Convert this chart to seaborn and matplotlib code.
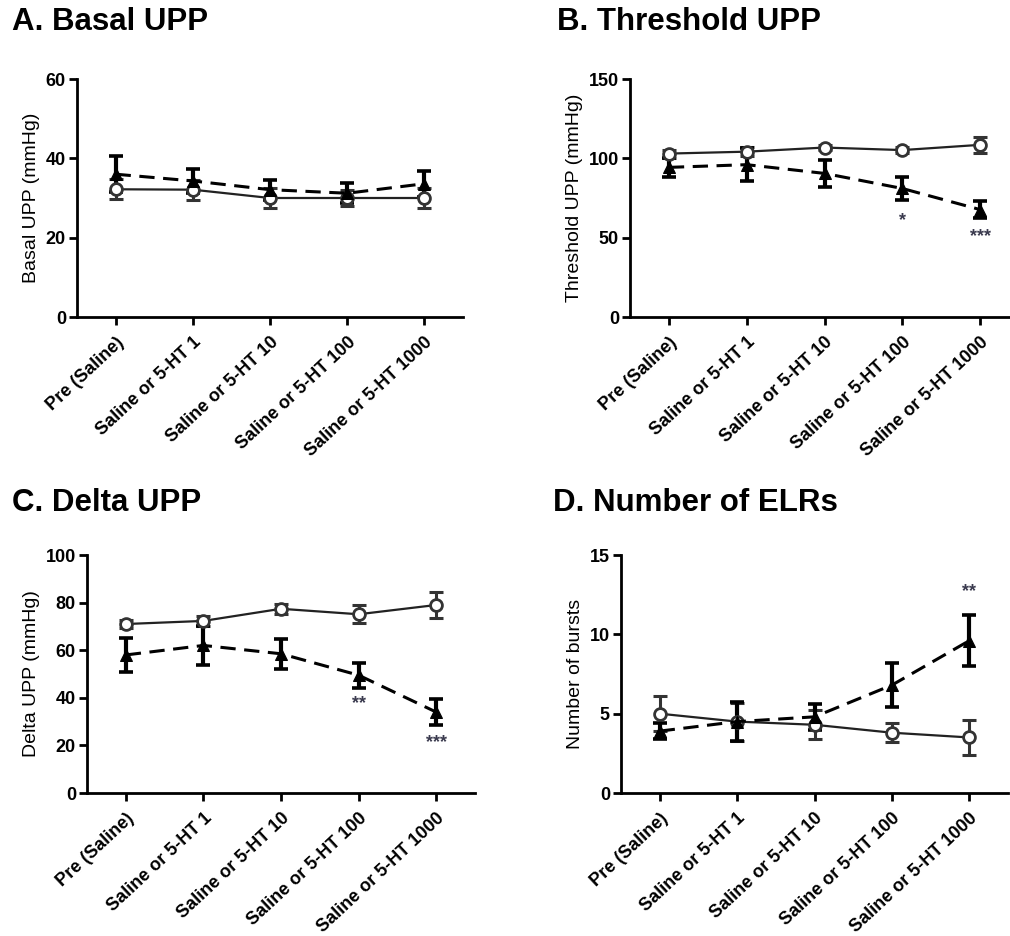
import numpy as np
import pandas as pd
import matplotlib
matplotlib.use("Agg")
import matplotlib.pyplot as plt
import seaborn as sns

sns.set_theme(style="ticks")
plt.rcParams["font.family"] = ["Liberation Sans", "DejaVu Sans"]
plt.rcParams.update({"text.color": "black", "axes.labelcolor": "black",
                     "xtick.color": "black", "ytick.color": "black"})

conditions = ["Pre (Saline)", "Saline or 5-HT 1", "Saline or 5-HT 10",
              "Saline or 5-HT 100", "Saline or 5-HT 1000"]

# Saline group (open circles, solid line): mean and SEM
basal_saline = [32.2, 32.1, 30.0, 30.0, 30.0]
basal_saline_sem = [2.5, 2.5, 2.5, 2.0, 2.5]
threshold_saline = [103.0, 104.2, 106.8, 105.2, 108.5]
threshold_saline_sem = [2.5, 3.0, 1.5, 2.0, 5.0]
delta_saline = [71.0, 72.3, 77.4, 75.1, 79.0]
delta_saline_sem = [1.5, 2.0, 2.0, 3.8, 5.5]
elr_saline = [5.0, 4.5, 4.3, 3.8, 3.5]
elr_saline_sem = [1.1, 1.2, 0.9, 0.6, 1.1]

# 5-HT group (filled triangles, dashed line): mean and SEM
basal_5ht = [36.0, 34.3, 32.1, 31.2, 33.6]
basal_5ht_sem = [4.5, 3.1, 2.5, 2.5, 3.3]
threshold_5ht = [94.3, 96.0, 90.5, 81.0, 67.7]
threshold_5ht_sem = [6.0, 10.5, 8.4, 7.2, 5.5]
delta_5ht = [58.0, 62.0, 58.5, 49.5, 34.0]
delta_5ht_sem = [7.0, 8.2, 6.4, 5.2, 5.5]
elr_5ht = [3.9, 4.5, 4.8, 6.8, 9.6]
elr_5ht_sem = [0.5, 1.25, 0.8, 1.4, 1.6]

# significance marks: (condition index, y position, text)
threshold_stars = [(3, 61, "*"), (4, 50.5, "***")]
delta_stars = [(3, 37.5, "**"), (4, 21, "***")]
elr_stars = [(4, 12.7, "**")]

W, H = 1010, 936
fig = plt.figure(figsize=(W / 100, H / 100), dpi=100)


def axes_px(left, right, top, bottom):
    return fig.add_axes([left / W, 1 - bottom / H, (right - left) / W, (bottom - top) / H])


panels = [
    dict(box=(77, 463, 79, 317), title="A. Basal UPP", tpos=(12, 22),
         sal=basal_saline, sal_e=basal_saline_sem, ht=basal_5ht, ht_e=basal_5ht_sem,
         ylim=60, yticks=[0, 20, 40, 60], ylabel="Basal UPP (mmHg)", stars=[]),
    dict(box=(630, 1019, 79, 317), title="B. Threshold UPP", tpos=(557, 22),
         sal=threshold_saline, sal_e=threshold_saline_sem, ht=threshold_5ht, ht_e=threshold_5ht_sem,
         ylim=150, yticks=[0, 50, 100, 150], ylabel="Threshold UPP (mmHg)", stars=threshold_stars),
    dict(box=(87, 475, 555, 793), title="C. Delta UPP", tpos=(12, 503),
         sal=delta_saline, sal_e=delta_saline_sem, ht=delta_5ht, ht_e=delta_5ht_sem,
         ylim=100, yticks=[0, 20, 40, 60, 80, 100], ylabel="Delta UPP (mmHg)", stars=delta_stars),
    dict(box=(621, 1008, 555, 793), title="D. Number of ELRs", tpos=(553, 503),
         sal=elr_saline, sal_e=elr_saline_sem, ht=elr_5ht, ht_e=elr_5ht_sem,
         ylim=15, yticks=[0, 5, 10, 15], ylabel="Number of bursts", stars=elr_stars),
]

idx = np.arange(len(conditions))

for p in panels:
    ax = axes_px(*p["box"])
    df = pd.DataFrame({
        "cond": np.concatenate([idx, idx]),
        "value": np.concatenate([p["sal"], p["ht"]]),
        "group": ["Saline"] * len(idx) + ["5-HT"] * len(idx),
    })
    # error bars (SEM)
    ax.errorbar(idx, p["sal"], yerr=p["sal_e"], fmt="none", ecolor="#333333",
                elinewidth=2.2, capsize=5, capthick=2.2, zorder=2)
    ax.errorbar(idx, p["ht"], yerr=p["ht_e"], fmt="none", ecolor="black",
                elinewidth=3.0, capsize=5, capthick=2.6, zorder=3)
    sns.lineplot(data=df[df.group == "Saline"], x="cond", y="value", ax=ax,
                 color="#222222", lw=1.6, marker="o", markersize=8.5,
                 markerfacecolor="white", markeredgecolor="#333333",
                 markeredgewidth=2, zorder=4, legend=False)
    sns.lineplot(data=df[df.group == "5-HT"], x="cond", y="value", ax=ax,
                 color="black", lw=2.2, marker="^", markersize=8.5,
                 markerfacecolor="black", markeredgecolor="black",
                 linestyle=(0, (5, 2.8)), zorder=5, legend=False)
    for ci, yv, s in p["stars"]:
        ax.text(ci, yv, s, ha="center", va="center", fontsize=13,
                color="#3a3a4e", fontweight="bold")

    ax.set_xlim(-0.5, 4.5)
    ax.set_ylim(0, p["ylim"])
    ax.set_yticks(p["yticks"])
    ax.set_xticks(idx)
    ax.set_xticklabels(conditions, rotation=43, ha="right", rotation_mode="anchor",
                       fontsize=13, fontweight="bold")
    for lab in ax.get_yticklabels():
        lab.set_fontweight("bold")
        lab.set_fontsize(13)
    ax.set_xlabel("")
    ax.set_ylabel(p["ylabel"], fontsize=14, labelpad=4)
    ax.tick_params(axis="both", direction="out", length=6, width=2, color="black",
                   labelcolor="black", pad=2)
    ax.tick_params(axis="x", pad=6)
    for sp in ["left", "bottom"]:
        ax.spines[sp].set_linewidth(2)
        ax.spines[sp].set_color("black")
    sns.despine(ax=ax)
    ax.patch.set_alpha(0)

    fig.text(p["tpos"][0] / W, 1 - p["tpos"][1] / H, p["title"], fontsize=22.5,
             fontweight="bold", ha="left", va="center", color="black")

fig.savefig("out.png", dpi=100, facecolor="white")
